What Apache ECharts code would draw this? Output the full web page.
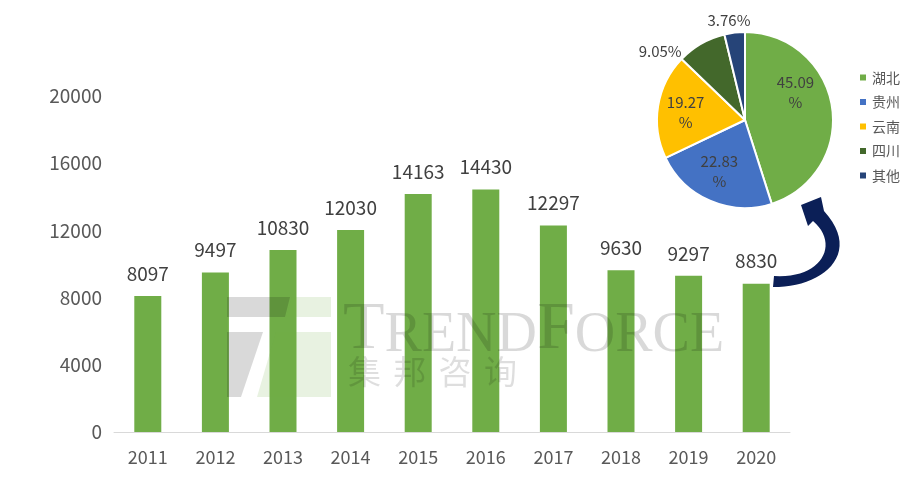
<!DOCTYPE html>
<html>
<head>
<meta charset="utf-8">
<title>Capacity 2011-2020</title>
<script src="https://cdn.jsdelivr.net/npm/echarts@6/dist/echarts.min.js"></script>
<style>
    html, body { margin: 0; padding: 0; background: #fff; }
    #main { width: 905px; height: 487px; }
</style>
</head>
<body>
<div id="main"></div>
<script type="text/javascript">
    // bar data
    var years = ['2011', '2012', '2013', '2014', '2015', '2016', '2017', '2018', '2019', '2020'];
    var output = [8097, 9497, 10830, 12030, 14163, 14430, 12297, 9630, 9297, 8830];
    var yTicks = [0, 4000, 8000, 12000, 16000, 20000];

    // pie data (share, %)
    var regions = ['湖北', '贵州', '云南', '四川', '其他'];
    var shares = [45.09, 22.83, 19.27, 9.05, 3.76];

    var pieColors = ['#70AD47', '#4472C4', '#FFC000', '#43682B', '#264478'];
    var font = '"Noto Sans CJK SC", "Noto Sans", sans-serif';

    var pieData = [];
    for (var i = 0; i < regions.length; i++) {
        pieData.push({
            name: regions[i],
            value: shares[i],
            itemStyle: { color: pieColors[i] },
            label: { position: i < 3 ? 'inside' : 'outside' }
        });
    }

    // label nudges so the labels sit roughly where the original has them
    var nudge = [[4, -20], [-7, 8], [-13, 0], [0, 7], [22, -2]];

    // sample a cubic bezier into points (for the decorative arrow)
    function bezier(p0, p1, p2, p3, n) {
        var pts = [];
        for (var s = 0; s <= n; s++) {
            var t = s / n, u = 1 - t;
            pts.push([
                u * u * u * p0[0] + 3 * u * u * t * p1[0] + 3 * u * t * t * p2[0] + t * t * t * p3[0],
                u * u * u * p0[1] + 3 * u * u * t * p1[1] + 3 * u * t * t * p2[1] + t * t * t * p3[1]
            ]);
        }
        return pts;
    }
    var arrowPts = bezier([773, 287], [820, 288], [864, 255], [824, 211], 24)
        .concat([[821, 197], [801, 205], [808, 226]])
        .concat(bezier([813, 221], [840, 244], [822, 279], [774, 276], 24));

    // watermark pieces
    var wm = 'rgba(0,0,0,0.15)';
    var wmGreen = 'rgba(112,173,71,0.16)';
    var graphics = [
        { type: 'polygon', z: 100, silent: true, shape: { points: [[227, 297], [290, 297], [285, 317], [227, 317]] }, style: { fill: wm } },
        { type: 'polygon', z: 100, silent: true, shape: { points: [[227, 332], [263, 332], [241, 397], [227, 397]] }, style: { fill: wm } },
        { type: 'polygon', z: 100, silent: true, shape: { points: [[292, 297], [331, 297], [331, 317], [286, 317]] }, style: { fill: wmGreen } },
        { type: 'polygon', z: 100, silent: true, shape: { points: [[276, 332], [331, 332], [331, 397], [257, 397]] }, style: { fill: wmGreen } },
        {
            type: 'text', z: 100, silent: true, left: 343, top: 296,
            style: {
                text: '{a|T}{b|REND}{a|F}{b|ORCE}',
                fill: wm,
                rich: {
                    a: { fontFamily: '"Liberation Serif", serif', fontSize: 68, lineHeight: 68, verticalAlign: 'bottom', fill: wm },
                    b: { fontFamily: '"Liberation Serif", serif', fontSize: 56, lineHeight: 56, verticalAlign: 'bottom', fill: wm }
                }
            }
        },
        // curved arrow from the last bar up to the pie
        { type: 'polygon', z: 50, silent: true, shape: { points: arrowPts }, style: { fill: '#0B1F57' } }
    ];
    var cn = ['集', '邦', '咨', '询'];
    for (var k = 0; k < cn.length; k++) {
        graphics.push({
            type: 'text', z: 100, silent: true, left: 348 + k * 45.3, top: 355,
            style: { text: cn[k], fontFamily: font, fontSize: 33, fill: 'rgba(0,0,0,0.13)' }
        });
    }

    var myChart = echarts.init(document.getElementById('main'));
    myChart.setOption({
        animation: false,
        textStyle: { fontFamily: font },
        grid: { left: 114, right: 115, top: 96, bottom: 55 },
        legend: {
            orient: 'vertical',
            left: 853,
            top: 64,
            itemWidth: 8,
            itemHeight: 8,
            itemGap: 7.5,
            icon: 'rect',
            data: regions,
            textStyle: { fontFamily: font, fontSize: 14, color: '#595959', lineHeight: 17 }
        },
        xAxis: {
            type: 'category',
            data: years,
            axisTick: { show: false },
            axisLine: { lineStyle: { color: '#D9D9D9', width: 1 } },
            axisLabel: { color: '#595959', fontSize: 18, margin: 16 }
        },
        yAxis: {
            type: 'value',
            min: yTicks[0],
            max: yTicks[yTicks.length - 1],
            interval: yTicks[1] - yTicks[0],
            splitLine: { show: false },
            axisLine: { show: false },
            axisTick: { show: false },
            axisLabel: {
                color: '#595959', fontSize: 19, margin: 12,
                formatter: function (v) { return String(v); }
            }
        },
        series: [
            {
                type: 'bar',
                data: output,
                barWidth: 27,
                itemStyle: { color: '#70AD47' },
                label: { show: true, position: 'top', distance: 13, color: '#404040', fontSize: 19 }
            },
            {
                type: 'pie',
                center: [745, 120],
                radius: 88,
                startAngle: 90,
                data: pieData,
                itemStyle: { borderColor: '#fff', borderWidth: 2 },
                label: {
                    color: '#404040',
                    fontSize: 15,
                    lineHeight: 20,
                    distanceToLabelLine: 5,
                    formatter: function (p) {
                        return p.dataIndex < 3 ? p.value + '\n%' : p.value + '%';
                    }
                },
                labelLine: { show: false, length: 10, length2: 0 },
                labelLayout: function (params) {
                    var n = nudge[params.dataIndex];
                    return { dx: n[0], dy: n[1] };
                },
                emphasis: { disabled: true }
            }
        ],
        graphic: graphics
    });
</script>
</body>
</html>
